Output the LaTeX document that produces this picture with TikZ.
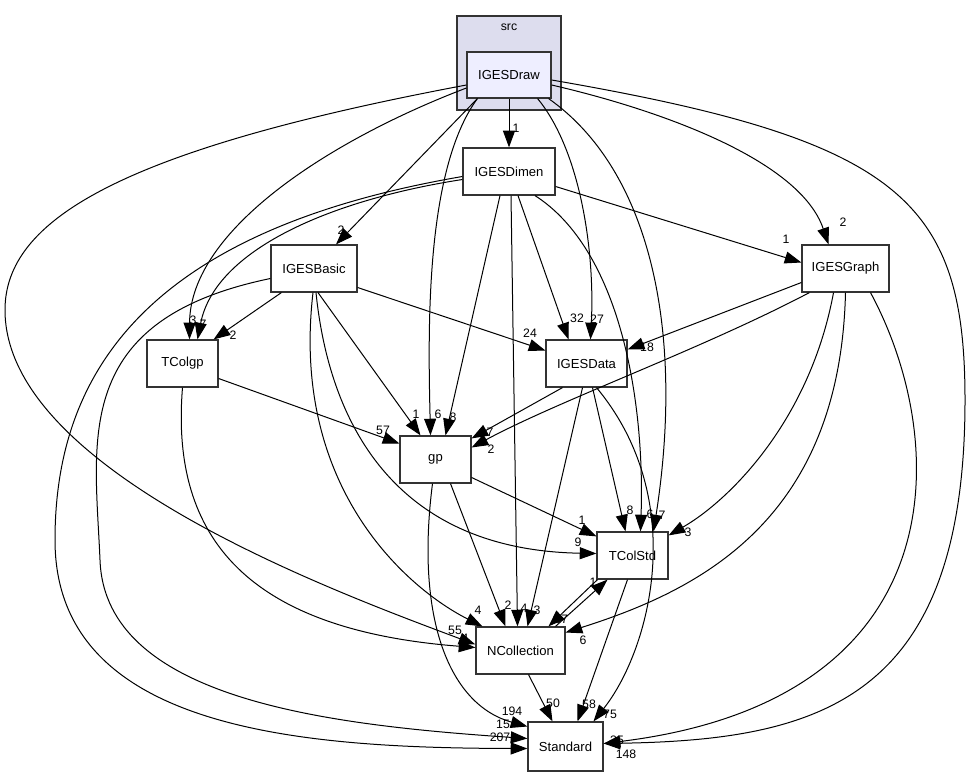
\documentclass[tikz,border=0pt]{standalone}
\usepackage{fontspec}
\setmainfont{Liberation Sans}
\usetikzlibrary{arrows.meta,calc}
\begin{document}
\begin{tikzpicture}[x=0.75pt,y=-0.75pt,
  box/.style={draw=black!80,line width=0.9pt,fill=white,inner sep=0pt,font=\fontsize{9.8}{11}\selectfont,minimum height=35.25pt},
  edge/.style={line width=0.75pt,-{Triangle[length=12.5pt,width=9pt]}},
  lbl/.style={font=\fontsize{9.2}{10}\selectfont,inner sep=0pt}]
\useasboundingbox (0,0) rectangle (973,777);
% cluster
\node[draw=black!80,line width=0.9pt,fill={rgb,255:red,221;green,221;blue,238},minimum width=78pt,minimum height=70.5pt,inner sep=0pt] (src) at (509,63) {};
\node[font=\fontsize{9.2}{10}\selectfont] (srclbl) at (509,27) {src};
% nodes
\node[box,fill={rgb,255:red,238;green,238;blue,255},minimum width=63pt,minimum height=34.5pt] (Draw) at (509,75) {IGESDraw};
\node[box,minimum width=69pt] (Dimen) at (509,171.5) {IGESDimen};
\node[box,minimum width=64.5pt] (Basic) at (314,268.5) {IGESBasic};
\node[box,minimum width=65.25pt] (Graph) at (845.5,268.5) {IGESGraph};
\node[box,minimum width=53.25pt] (TColgp) at (182.5,363.5) {TColgp};
\node[box,minimum width=60.75pt] (Data) at (586.5,363.5) {IGESData};
\node[box,minimum width=53.25pt] (gp) at (435.5,459.5) {gp};
\node[box,minimum width=53.25pt] (TColStd) at (632.5,555.5) {TColStd};
\node[box,minimum width=66.75pt] (NColl) at (520.5,650.5) {NCollection};
\node[box,minimum width=56.25pt,minimum height=36.75pt] (Std) at (565.5,746.5) {Standard};

% edges from IGESDraw
\draw[edge] (Draw.south) -- (Dimen.north);
\draw[edge] ($(Draw.south west)+(11,0)$) -- ($(Basic.north)+(22,0)$);
\draw[edge] ($(Draw.east)+(0,10)$) .. controls (660,110) and (800,160) .. ($(Graph.north)+(-17,0)$);
\draw[edge] ($(Draw.west)+(0,13)$) .. controls (330,140) and (190,230) .. ($(TColgp.north)+(7,0)$);
\draw[edge] ($(Draw.south west)+(11,0)$) .. controls (425,170) and (428,330) .. ($(gp.north)+(-5,0)$);
\draw[edge] ($(Draw.south east)+(-14,0)$) .. controls (580,150) and (595,250) .. ($(Data.north)+(4,0)$);
\draw[edge] ($(Draw.south east)+(-3,0)$) .. controls (650,170) and (685,330) .. ($(TColStd.north)+(21,0)$);
\draw[edge] ($(Draw.west)+(0,10)$) .. controls (120,150) and (5,220) .. (5,310) .. controls (5,470) and (330,590) .. ($(NColl.west)+(0,-6)$);
\draw[edge] ($(Draw.east)+(0,5)$) .. controls (900,140) and (965,200) .. (965,400) .. controls (965,700) and (820,740) .. ($(Std.east)+(0,-3)$);

% edges from IGESDimen
\draw[edge] ($(Dimen.east)+(0,15)$) -- ($(Graph.west)+(0,-6)$);
\draw[edge] ($(Dimen.west)+(0,8)$) .. controls (330,200) and (215,250) .. ($(TColgp.north)+(15,0)$);
\draw[edge] ($(Dimen.south)+(-9,0)$) -- ($(gp.north)+(10,0)$);
\draw[edge] ($(Dimen.south)+(9,0)$) -- ($(Data.north)+(-18,0)$);
\draw[edge] ($(Dimen.south)+(2,0)$) -- ($(NColl.north)+(-3,0)$);
\draw[edge] ($(Dimen.south)+(26,0)$) .. controls (620,250) and (645,400) .. ($(TColStd.north)+(8,0)$);
\draw[edge] ($(Dimen.west)+(0,5)$) .. controls (150,230) and (55,370) .. (55,540) .. controls (55,730) and (300,748) .. ($(Std.west)+(0,2)$);

% edges from IGESBasic
\draw[edge] ($(Basic.south west)+(11,0)$) -- ($(TColgp.north east)+(-5,0)$);
\draw[edge] ($(Basic.south)+(4,0)$) -- ($(gp.north)+(-15,0)$);
\draw[edge] ($(Basic.east)+(0,19)$) -- ($(Data.west)+(0,-13)$);
\draw[edge] ($(Basic.south)+(2,0)$) .. controls (330,430) and (400,550) .. ($(TColStd.west)+(0,-2)$);
\draw[edge] ($(Basic.south)+(-1,0)$) .. controls (290,490) and (410,590) .. ($(NColl.north west)+(7,0)$);
\draw[edge] ($(Basic.west)+(0,10)$) .. controls (70,320) and (95,440) .. (100,560) .. controls (105,700) and (330,725) .. ($(Std.west)+(0,-8)$);

% edges from IGESGraph
\draw[edge] ($(Graph.west)+(0,14)$) -- ($(Data.east)+(0,-14)$);
\draw[edge] ($(Graph.south west)+(8,0)$) .. controls (700,350) and (560,400) .. ($(gp.east)+(0,-12)$);
\draw[edge] ($(Graph.south)+(-12,0)$) .. controls (810,420) and (730,500) .. ($(TColStd.north east)+(0,4)$);
\draw[edge] ($(Graph.south)+(0,0)$) .. controls (840,520) and (700,590) .. ($(NColl.east)+(0,-18)$);
\draw[edge] ($(Graph.south)+(25,0)$) .. controls (950,440) and (960,700) .. ($(Std.east)+(0,-3)$);

% others
\draw[edge] ($(TColgp.east)+(0,15)$) -- ($(gp.west)+(0,-16)$);
\draw[edge] ($(TColgp.south)+(0,0)$) .. controls (170,540) and (250,630) .. ($(NColl.west)+(0,-3)$);
\draw[edge] ($(Data.south)+(-24,0)$) -- ($(gp.north east)+(0,3)$);
\draw[edge] ($(Data.south)+(6,0)$) -- ($(TColStd.north)+(-7,0)$);
\draw[edge] ($(Data.south)+(-4,0)$) -- ($(NColl.north)+(7,0)$);
\draw[edge] ($(Data.south)+(10,0)$) .. controls (690,500) and (650,650) .. ($(Std.north)+(28,0)$);
\draw[edge] ($(gp.east)+(0,18)$) -- ($(TColStd.north west)+(0,5)$);
\draw[edge] ($(gp.south)+(15,0)$) -- ($(NColl.north)+(-15,0)$);
\draw[edge] ($(gp.south)+(-3,0)$) .. controls (415,620) and (450,705) .. ($(Std.west)+(0,-20)$);
\draw[edge] ($(NColl.north)+(35,0)$) -- ($(TColStd.south)+(-25,0)$);
\draw[edge] ($(TColStd.south)+(-35,0)$) -- ($(NColl.north)+(28,0)$);
\draw[edge] ($(TColStd.south)+(-5,0)$) -- ($(Std.north)+(12,0)$);
\draw[edge] ($(NColl.south)+(8,0)$) -- ($(Std.north)+(-13,0)$);

% labels
\node[lbl] (l1) at (516,128) {1};
\node[lbl] (l2) at (341,230) {2};
\node[lbl] (l3) at (843,222) {2};
\node[lbl] (l4) at (193,320) {3};
\node[lbl] (l5) at (203,324) {7};
\node[lbl] (l6) at (233,335) {2};
\node[lbl] (l7) at (416,414) {1};
\node[lbl] (l8) at (438,414) {6};
\node[lbl] (l9) at (453,417) {8};
\node[lbl] (l10) at (383,430) {57};
\node[lbl] (l11) at (490,432) {7};
\node[lbl] (l12) at (491,449) {2};
\node[lbl] (l13) at (577,318) {32};
\node[lbl] (l14) at (597,319) {27};
\node[lbl] (l15) at (530,333) {24};
\node[lbl] (l16) at (647,347) {18};
\node[lbl] (l17) at (786,239) {1};
\node[lbl] (l18) at (582,520) {1};
\node[lbl] (l19) at (578,542) {9};
\node[lbl] (l20) at (630,510) {8};
\node[lbl] (l21) at (650,514) {6};
\node[lbl] (l22) at (662,515) {7};
\node[lbl] (l23) at (688,532) {3};
\node[lbl] (l24) at (593,582) {1};
\node[lbl] (l25) at (561,619) {67};
\node[lbl] (l26) at (478,610) {4};
\node[lbl] (l27) at (508,605) {2};
\node[lbl] (l28) at (524,608) {4};
\node[lbl] (l29) at (537,610) {3};
\node[lbl] (l30) at (583,640) {6};
\node[lbl] (l31) at (455,630) {55};
\node[lbl] (l32) at (465,638) {4};
\node[lbl] (l33) at (553,703) {50};
\node[lbl] (l34) at (589,704) {58};
\node[lbl] (l35) at (610,714) {75};
\node[lbl] (l36) at (512,711) {194};
\node[lbl] (l37) at (503,724) {15};
\node[lbl] (l38) at (500,737) {207};
\node[lbl] (l39) at (617,740) {35};
\node[lbl] (l40) at (626,754) {148};
\end{tikzpicture}
\end{document}
